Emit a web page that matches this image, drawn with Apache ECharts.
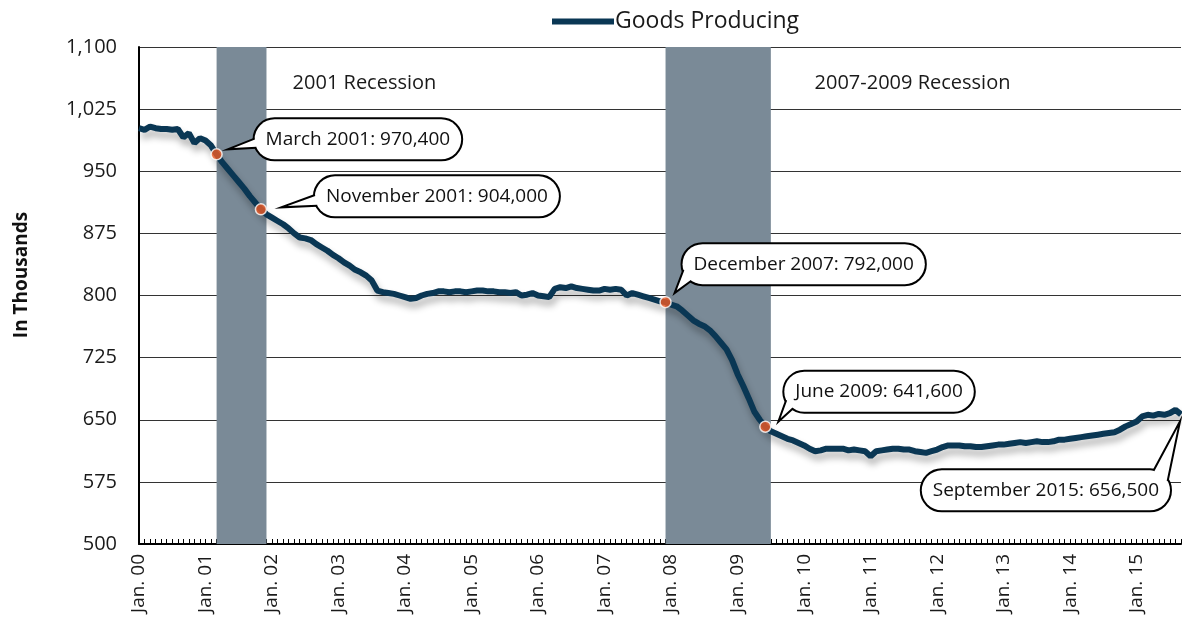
<!DOCTYPE html>
<html>
<head>
<meta charset="utf-8">
<script src="https://cdn.jsdelivr.net/npm/echarts@6/dist/echarts.min.js"></script>
<style>
  html, body { margin: 0; padding: 0; background: #fff; }
  #chart { width: 1182px; height: 617px; }
</style>
</head>
<body>
<div id="chart"></div>
<script>
// Goods-producing employment, monthly, Jan 2000 – Sep 2015 (thousands)
const firstYear = 2000;
const monthNames = ['Jan', 'Feb', 'Mar', 'Apr', 'May', 'Jun', 'Jul', 'Aug', 'Sep', 'Oct', 'Nov', 'Dec'];

const goodsProducing = [
  // 2000
  1002, 1000, 1004, 1002, 1001, 1001, 1000, 1001, 991, 996, 984, 990,
  // 2001
  987, 981, 970.4, 961, 953, 945, 937, 929, 920, 912, 904, 898,
  // 2002
  894, 890, 886, 881, 875, 870, 869, 867, 862, 858, 854, 849,
  // 2003
  845, 840, 836, 831, 828, 824, 818, 806, 804, 803, 802, 800,
  // 2004
  798, 796, 797, 800, 802, 803, 805, 805, 804, 805, 805, 804,
  // 2005
  805, 806, 806, 805, 805, 804, 804, 803, 804, 800, 801, 803,
  // 2006
  800, 799, 798, 808, 810, 809, 811, 809, 808, 807, 806, 806,
  // 2007
  808, 807, 808, 807, 800, 803, 801, 799, 797, 795, 793, 792,
  // 2008
  789, 787, 782, 776, 770, 766, 763, 758, 751, 743, 735, 722,
  // 2009
  705, 691, 676, 660, 650, 641.6, 636, 633, 630, 627, 625, 622,
  // 2010
  619, 615, 612, 613, 615, 615, 615, 615, 613, 614, 613, 612,
  // 2011
  606, 612, 613, 614, 615, 615, 614, 614, 612, 611, 610, 612,
  // 2012
  614, 617, 619, 619, 619, 618, 618, 617, 617, 618, 619, 620,
  // 2013
  620, 621, 622, 623, 622, 623, 624, 623, 623, 624, 626, 626,
  // 2014
  627, 628, 629, 630, 631, 632, 633, 634, 635, 638, 642, 645,
  // 2015
  648, 654, 656, 655, 657, 656, 658, 662, 656.5
];

// Category names "Jan. 00", "Feb. 00", ...
const months = goodsProducing.map((_, i) => {
  const y = firstYear + Math.floor(i / 12);
  return monthNames[i % 12] + '. ' + String(y % 100).padStart(2, '0');
});

// Recessions (first and last month)
const recessions = [
  { name: '2001 Recession', start: 'Mar. 01', end: 'Nov. 01' },
  { name: '2007-2009 Recession', start: 'Dec. 07', end: 'Jun. 09' }
];

// Annotated observations
const annotations = [
  { month: 'Mar. 01', value: 970.4, text: 'March 2001: 970,400' },
  { month: 'Nov. 01', value: 904.0, text: 'November 2001: 904,000' },
  { month: 'Dec. 07', value: 792.0, text: 'December 2007: 792,000' },
  { month: 'Jun. 09', value: 641.6, text: 'June 2009: 641,600' },
  { month: 'Sep. 15', value: 656.5, text: 'September 2015: 656,500' }
];

// Y axis range
const yMin = 500, yMax = 1100, yStep = 75;

// ---- layout of the callouts (pixel offsets from the annotated point) ----
const calloutLayout = [
  { side: 'left',  box: [38, -15],  tip: [11, -5],  base: [182, 155], dot: true },
  { side: 'left',  box: [54, -13],  tip: [20, -2],  base: [184, 152], dot: true },
  { side: 'left',  box: [17, -38],  tip: [9, -9],   base: [163, 124], dot: true },
  { side: 'left',  box: [19, -35],  tip: [13, -5],  base: [155, 124], dot: true },
  { side: 'right', box: [-11, 76],  tip: [-1, 7],   base: [280, 332], dot: false }
];

const FONT = "'Open Sans', 'Noto Sans', sans-serif";
const LINE_COLOR = '#0a3754';
const SHADE_COLOR = '#7a8a97';
const DOT_COLOR = '#ee5a24';
const BOX_H = 40;

const monthIndex = name => months.indexOf(name);

const chart = echarts.init(document.getElementById('chart'), null, { renderer: 'canvas' });

const recessionAreas = recessions.map((r, k) => {
  // shade each month as a full month-wide slot
  const endNext = months[Math.min(monthIndex(r.end) + 1, months.length - 1)];
  return [
    {
      xAxis: r.start,
      name: r.name,
      label: {
        show: true,
        position: k === 0 ? [76, 36] : [149, 36],
        align: 'left',
        verticalAlign: 'middle',
        color: '#1a1a1a',
        fontFamily: FONT,
        fontSize: 20,
        formatter: '{b}'
      }
    },
    { xAxis: endNext }
  ];
});

const option = {
  animation: false,
  backgroundColor: '#ffffff',
  textStyle: { fontFamily: FONT },
  legend: {
    data: ['Goods Producing'],
    left: 547,
    top: 5,
    icon: 'rect',
    itemWidth: 62,
    itemHeight: 6,
    itemGap: 10,
    textStyle: { fontFamily: FONT, fontSize: 23, color: '#1a1a1a', padding: [0, 0, 0, -4] }
  },
  grid: { left: 139, right: 1, top: 47, bottom: 73, containLabel: false },
  xAxis: {
    type: 'category',
    data: months,
    boundaryGap: false,
    axisLine: { show: true, lineStyle: { color: '#000', width: 2 } },
    axisTick: { show: true, inside: true, length: 5, interval: 0, lineStyle: { color: '#000', width: 1 } },
    axisLabel: {
      interval: 11,
      rotate: 90,
      margin: 10,
      fontFamily: FONT,
      fontSize: 19,
      color: '#1a1a1a',
      padding: [5, 0, 0, 0]
    },
    splitLine: { show: false }
  },
  yAxis: {
    type: 'value',
    min: yMin,
    max: yMax,
    interval: yStep,
    axisLine: { show: true, lineStyle: { color: '#000', width: 2 } },
    axisTick: { show: false },
    axisLabel: {
      margin: 22,
      fontFamily: FONT,
      fontSize: 20,
      color: '#1a1a1a',
      formatter: v => v.toLocaleString('en-US')
    },
    splitLine: { show: true, lineStyle: { color: '#333', width: 1.2 } }
  },
  graphic: [],
  series: [
    {
      name: 'Goods Producing',
      type: 'line',
      data: goodsProducing,
      symbol: 'none',
      color: LINE_COLOR,
      lineStyle: {
        color: LINE_COLOR,
        width: 6,
        shadowColor: 'rgba(0,0,0,0.3)',
        shadowBlur: 7,
        shadowOffsetX: 2,
        shadowOffsetY: 6
      },
      z: 3,
      markArea: {
        silent: true,
        itemStyle: { color: SHADE_COLOR, opacity: 1 },
        data: recessionAreas
      }
    },
    {
      name: 'Annotated',
      type: 'scatter',
      data: annotations
        .filter((a, k) => calloutLayout[k].dot)
        .map(a => [a.month, a.value]),
      symbol: 'circle',
      symbolSize: 11,
      itemStyle: { color: DOT_COLOR, borderColor: '#fff', borderWidth: 1.5 },
      z: 5,
      silent: true
    }
  ]
};

chart.setOption(option);

// Speech-bubble callouts anchored to the annotated points
function buildCallouts() {
  const r = BOX_H / 2;
  const elements = [];
  annotations.forEach((a, k) => {
    const L = calloutLayout[k];
    const p = chart.convertToPixel({ xAxisIndex: 0, yAxisIndex: 0 }, [a.month, a.value]);
    const edgeX = p[0] + L.box[0];
    const cy = p[1] + L.box[1];
    const tip = [p[0] + L.tip[0], p[1] + L.tip[1]];
    const cx = L.side === 'left' ? edgeX + r : edgeX - r;
    const onArc = (deg, rad) => [cx + rad * Math.cos(deg * Math.PI / 180), cy + rad * Math.sin(deg * Math.PI / 180)];
    const b0 = onArc(L.base[0], r), b1 = onArc(L.base[1], r);
    const i0 = onArc(L.base[0], r - 4), i1 = onArc(L.base[1], r - 4);

    elements.push({
      type: 'text',
      x: edgeX,
      y: cy,
      z: 100,
      silent: true,
      style: {
        text: a.text,
        font: '19px ' + FONT,
        fill: '#111',
        align: L.side,
        verticalAlign: 'middle',
        lineHeight: 22,
        padding: [9, 11, 9, 11],
        backgroundColor: '#fff',
        borderColor: '#000',
        borderWidth: 2,
        borderRadius: r
      }
    });
    elements.push({
      type: 'polygon',
      z: 101,
      silent: true,
      shape: { points: [b0, tip, b1, i1, i0] },
      style: { fill: '#fff', stroke: null }
    });
    elements.push({
      type: 'polyline',
      z: 102,
      silent: true,
      shape: { points: [b0, tip, b1] },
      style: { stroke: '#000', lineWidth: 2, fill: null, lineJoin: 'miter' }
    });
  });

  // Vertical axis title
  elements.push({
    type: 'text',
    x: 22,
    y: 275,
    rotation: Math.PI / 2,
    silent: true,
    style: {
      text: 'In Thousands',
      font: 'bold 19px ' + FONT,
      fill: '#111',
      align: 'center',
      verticalAlign: 'middle'
    }
  });

  chart.setOption({ graphic: elements });
}

buildCallouts();
</script>
</body>
</html>
